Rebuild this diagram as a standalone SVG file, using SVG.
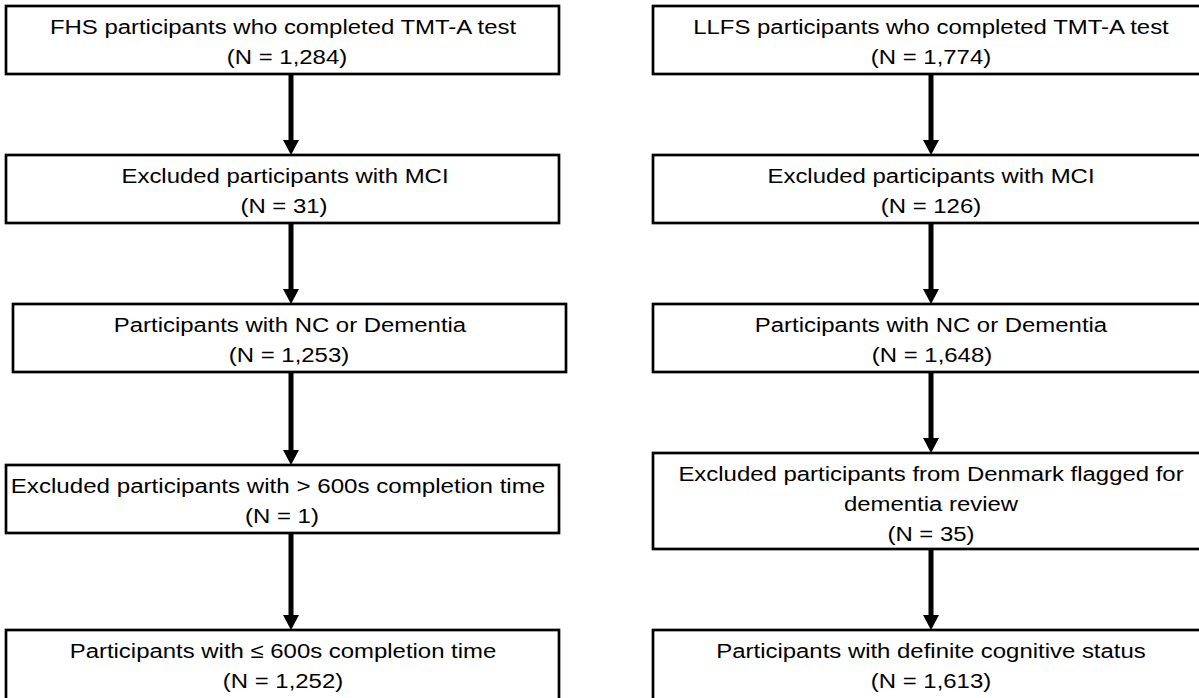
<svg xmlns="http://www.w3.org/2000/svg" width="1199" height="698" viewBox="0 0 1199 698">
<style>
.box{fill:#fff;stroke:#000;stroke-width:2.7}
.t{font-family:"Liberation Sans",Arial,sans-serif;font-size:21px;fill:#000;text-anchor:middle}
.c{stroke:#000;stroke-width:5;fill:none}
.h{fill:#000}
</style>
<rect width="1199" height="698" fill="#fff"/>
<g id="connectors">
<line class="c" x1="291" y1="75" x2="291" y2="142"/>
<line class="c" x1="291" y1="224" x2="291" y2="291"/>
<line class="c" x1="291" y1="373" x2="291" y2="452"/>
<line class="c" x1="291" y1="534" x2="291" y2="617"/>
<line class="c" x1="931" y1="75" x2="931" y2="142"/>
<line class="c" x1="931" y1="224" x2="931" y2="291"/>
<line class="c" x1="931" y1="373" x2="931" y2="440"/>
<line class="c" x1="931" y1="550" x2="931" y2="617"/>
<path class="h" d="M283,140 L299,140 L291,155 Z"/>
<path class="h" d="M283,289 L299,289 L291,304 Z"/>
<path class="h" d="M283,450 L299,450 L291,465 Z"/>
<path class="h" d="M283,615 L299,615 L291,630 Z"/>
<path class="h" d="M923,140 L939,140 L931,155 Z"/>
<path class="h" d="M923,289 L939,289 L931,304 Z"/>
<path class="h" d="M923,438 L939,438 L931,453 Z"/>
<path class="h" d="M923,615 L939,615 L931,630 Z"/>
</g>
<g id="fhs1"><rect class="box" x="6" y="6" width="553" height="68"/>
<text class="t" transform="translate(283 34) scale(1.14 1)">FHS participants who completed TMT-A test</text>
<text class="t" transform="translate(287 64) scale(1.14 1)">(N = 1,284)</text></g>
<g id="fhs2"><rect class="box" x="6" y="155" width="553" height="68"/>
<text class="t" transform="translate(285 183) scale(1.14 1)">Excluded participants with MCI</text>
<text class="t" transform="translate(284 213) scale(1.14 1)">(N = 31)</text></g>
<g id="fhs3"><rect class="box" x="13" y="304" width="553" height="68"/>
<text class="t" transform="translate(290 332) scale(1.14 1)">Participants with NC or Dementia</text>
<text class="t" transform="translate(289 362) scale(1.14 1)">(N = 1,253)</text></g>
<g id="fhs4"><rect class="box" x="6" y="465" width="553" height="68"/>
<text class="t" transform="translate(278 493) scale(1.15 1)">Excluded participants with &gt; 600s completion time</text>
<text class="t" transform="translate(282 523) scale(1.14 1)">(N = 1)</text></g>
<g id="fhs5"><rect class="box" x="6" y="630" width="553" height="80"/>
<text class="t" transform="translate(283 658) scale(1.14 1)">Participants with ≤ 600s completion time</text>
<text class="t" transform="translate(283 688) scale(1.14 1)">(N = 1,252)</text></g>
<g id="llfs1"><rect class="box" x="653" y="6" width="556" height="68"/>
<text class="t" transform="translate(931 34) scale(1.14 1)">LLFS participants who completed TMT-A test</text>
<text class="t" transform="translate(931 64) scale(1.14 1)">(N = 1,774)</text></g>
<g id="llfs2"><rect class="box" x="653" y="155" width="556" height="68"/>
<text class="t" transform="translate(931 183) scale(1.14 1)">Excluded participants with MCI</text>
<text class="t" transform="translate(931 213) scale(1.14 1)">(N = 126)</text></g>
<g id="llfs3"><rect class="box" x="653" y="304" width="556" height="68"/>
<text class="t" transform="translate(931 332) scale(1.14 1)">Participants with NC or Dementia</text>
<text class="t" transform="translate(932 362) scale(1.14 1)">(N = 1,648)</text></g>
<g id="llfs4"><rect class="box" x="653" y="453" width="556" height="96"/>
<text class="t" transform="translate(931 481) scale(1.14 1)">Excluded participants from Denmark flagged for</text>
<text class="t" transform="translate(931 511) scale(1.14 1)">dementia review</text>
<text class="t" transform="translate(931 541) scale(1.14 1)">(N = 35)</text></g>
<g id="llfs5"><rect class="box" x="653" y="630" width="556" height="80"/>
<text class="t" transform="translate(931 658) scale(1.14 1)">Participants with definite cognitive status</text>
<text class="t" transform="translate(931 688) scale(1.14 1)">(N = 1,613)</text></g>
</svg>
